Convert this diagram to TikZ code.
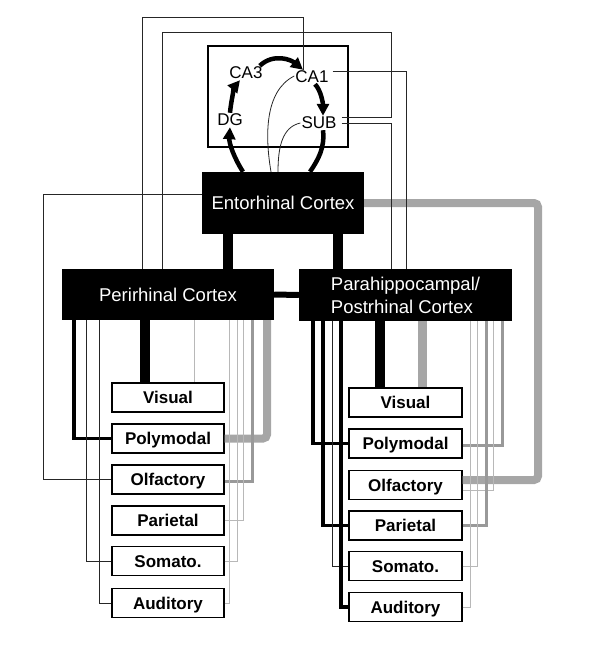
\documentclass[tikz,border=0pt]{standalone}
\usepackage{fontspec}
\setmainfont{Liberation Sans}
\usetikzlibrary{arrows.meta}
\begin{document}
\begin{tikzpicture}[x=1pt,y=-1pt,
 hdr/.style={fill=black,text=white,inner sep=0pt,font=\fontsize{18.5}{23}\selectfont},
 cbox/.style={draw,line width=1.2pt,fill=white,inner sep=0pt,minimum width=112pt,minimum height=29pt,
   text height=12.2pt,text depth=0pt,font=\fontsize{17}{20}\selectfont\bfseries},
 hlab/.style={inner sep=1pt,font=\fontsize{17}{20}\selectfont},
 bkthin/.style={draw=black!85,line width=0.8pt},
 bkmed/.style={line width=3.5pt},
 bkthick/.style={line width=10pt},
 gthin/.style={draw=black!28,line width=1pt},
 gmed/.style={draw=black!40,line width=3pt},
 gthick/.style={draw=black!35,line width=8pt,rounded corners=4pt},
 arr/.style={line width=4.5pt,-{Triangle[length=12pt,width=12pt]}}
]
\useasboundingbox (0,0) rectangle (589,664);

% ---------- boxes ----------
\node[draw,line width=1.6pt,minimum width=140pt,minimum height=101pt,inner sep=0pt] (hip) at (278,96.5) {};
\node[hlab] (CA3) at (246,73) {CA3};
\node[hlab] (CA1) at (312,77) {CA1};
\node[hlab] (DG) at (230,120) {DG};
\node[hlab] (SUB) at (319,123) {SUB};

\node[hdr,minimum width=162pt,minimum height=62pt,text height=13.3pt,text depth=0pt] (EC) at (283,203) {Entorhinal Cortex};
\node[hdr,minimum width=212pt,minimum height=51pt,text height=13.3pt,text depth=0pt] (PRC) at (168,294.5) {Perirhinal Cortex};
\node[hdr,minimum width=213pt,minimum height=52pt,align=left] (PHC) at (405.5,295) {Parahippocampal/\\Postrhinal Cortex};

\node[cbox] (lVis) at (168,397.5) {Visual};
\node[cbox] (lPoly) at (168,438.5) {Polymodal};
\node[cbox] (lOlf) at (168,479.5) {Olfactory};
\node[cbox] (lPar) at (168,520.5) {Parietal};
\node[cbox] (lSom) at (168,561) {Somato.};
\node[cbox] (lAud) at (168,603) {Auditory};

\node[cbox,minimum width=113pt] (rVis) at (405.5,402.5) {Visual};
\node[cbox,minimum width=113pt] (rPoly) at (405.5,443.5) {Polymodal};
\node[cbox,minimum width=113pt] (rOlf) at (405.5,485) {Olfactory};
\node[cbox,minimum width=113pt] (rPar) at (405.5,525.5) {Parietal};
\node[cbox,minimum width=113pt] (rSom) at (405.5,566) {Somato.};
\node[cbox,minimum width=113pt] (rAud) at (405.5,607) {Auditory};

% ---------- helper coordinates ----------
\coordinate (xL1) at (43,0);
\coordinate (xL2) at (74,0);
\coordinate (xL3) at (86,0);
\coordinate (xL4) at (99,0);
\coordinate (xLv) at (145,0);
\coordinate (xLg) at (194,0);
\coordinate (xLa) at (229,0);
\coordinate (xLb) at (233,0);
\coordinate (xLs) at (237,0);
\coordinate (xLp) at (243,0);
\coordinate (xLo) at (252,0);
\coordinate (xLpo) at (267,0);
\coordinate (xE1) at (228,0);
\coordinate (xE2) at (338,0);
\coordinate (xR2) at (313,0);
\coordinate (xR3) at (323,0);
\coordinate (xR4) at (332,0);
\coordinate (xR5) at (341,0);
\coordinate (xRv) at (380,0);
\coordinate (xRg) at (422,0);
\coordinate (xRa) at (470,0);
\coordinate (xRs) at (477,0);
\coordinate (xRp) at (486,0);
\coordinate (xRo) at (493,0);
\coordinate (xRpo) at (502,0);
\coordinate (xRb) at (538,0);
\coordinate (xC) at (406,0);
\coordinate (tA1) at (303,17);
\coordinate (tA2) at (142,17);
\coordinate (tB1) at (391,32);
\coordinate (tB2) at (162,32);
\coordinate (xDG) at (243,0);
\coordinate (xSe) at (310,0);
\coordinate (xT1) at (271,0);
\coordinate (xT2) at (278,0);
\coordinate (subA) at ([xshift=4pt,yshift=6pt]SUB.east);
\coordinate (subB) at ([xshift=4pt]SUB.east);
\coordinate (ca1A) at ([xshift=3pt,yshift=6pt]CA1.east);
\coordinate (ecW) at ([yshift=9pt]EC.west);
\coordinate (rOlfA) at ([yshift=5pt]rOlf.east);
\coordinate (rOlfB) at ([yshift=-5pt]rOlf.east);
\coordinate (rPolyA) at ([yshift=-1.5pt]rPoly.east);
\coordinate (lOlfA) at ([yshift=-2pt]lOlf.east);

% ---------- gray connectors ----------
\draw[gthick] (EC.east) -| (rOlfA -| xRb) -- (rOlfA);
\draw[gthick,rounded corners=0pt,line width=9pt] (PHC.south -| xRg) -- (rVis.north -| xRg);
\draw[gmed] (rPolyA) -| (PHC.south -| xRpo);
\draw[gthin] (rOlfB) -| (PHC.south -| xRo);
\draw[gmed] (rPar.east) -| (PHC.south -| xRp);
\draw[gthin] (rSom.east) -| (PHC.south -| xRs);
\draw[gthin] (rAud.east) -| (PHC.south -| xRa);

\draw[gthin] (PRC.south -| xLg) -- (lVis.north -| xLg);
\draw[gthick] (lPoly.east) -| (PRC.south -| xLpo);
\draw[gmed] (lOlfA) -| (PRC.south -| xLo);
\draw[gthin] (lPar.east) -| (PRC.south -| xLp);
\draw[gthin] (lSom.east) -| (PRC.south -| xLs);
\draw[gthin] (lAud.east) -| (PRC.south -| xLa);

% ---------- black connectors ----------
\draw[bkthick] (EC.south -| xE1) -- (PRC.north -| xE1);
\draw[bkthick] (EC.south -| xE2) -- (PHC.north -| xE2);
\draw[bkthick] (PRC.south -| xLv) -- (lVis.north -| xLv);
\draw[bkthick] (PHC.south -| xRv) -- (rVis.north -| xRv);
\draw[line width=6pt] (PRC.east) -- (PHC.west);

\draw[bkmed] (PRC.south -| xL2) |- (lPoly.west);
\draw[bkthin] (PRC.south -| xL3) |- (lSom.west);
\draw[bkthin] (PRC.south -| xL4) |- (lAud.west);
\draw[bkthin] (ecW) -| (lOlf.west -| xL1) -- (lOlf.west);

\draw[bkmed] (PHC.south -| xR2) |- (rPoly.west);
\draw[bkmed] (PHC.south -| xR3) |- (rPar.west);
\draw[bkthin] (PHC.south -| xR4) |- (rSom.west);
\draw[bkmed] (PHC.south -| xR5) |- (rAud.west);

\draw[bkthin] (CA1.north -| tA1) -- (tA1) -- (tA2) -- (PRC.north -| tA2);
\draw[bkthin] (subA) -| (tB1) -- (tB2) -- (PRC.north -| tB2);
\draw[bkthin] (subB) -| (PHC.north -| tB1);
\draw[bkthin] (ca1A) -| (PHC.north -| xC);

% ---------- hippocampal circuit ----------
\draw[arr] (EC.north -| xDG) .. controls +(-9,-14) and +(-1,16) .. (DG.south);
\draw[arr] (DG.north) .. controls +(1,-12) and +(-5,6) .. ([xshift=-6pt]CA3.south);
\draw[arr] ([xshift=-4pt]CA3.north east) .. controls +(14,-13) and +(-12,-10) .. ([xshift=-9pt]CA1.north);
\draw[arr] ([xshift=3pt]CA1.south) .. controls +(6,6) and +(0,-12) .. ([xshift=4pt]SUB.north);
\draw[line width=4.5pt] ([xshift=4pt]SUB.south) .. controls +(2,18) and +(8,-12) .. (EC.north -| xSe);
\draw[bkthin] ([yshift=1pt]CA1.west) .. controls +(-30,15) and +(-6,-35) .. (EC.north -| xT1);
\draw[bkthin] (SUB.west) .. controls +(-18,4) and +(0,-25) .. (EC.north -| xT2);
\end{tikzpicture}
\end{document}
